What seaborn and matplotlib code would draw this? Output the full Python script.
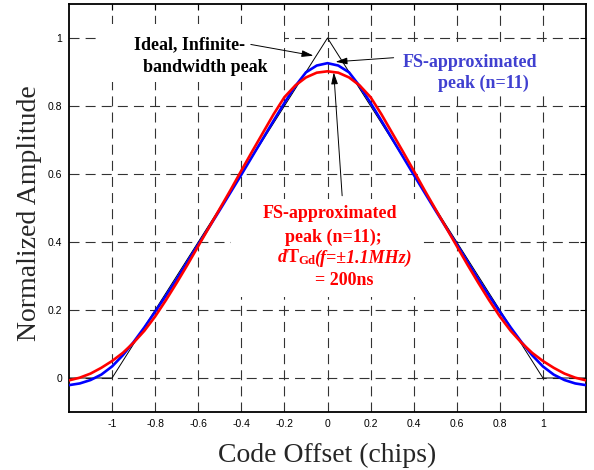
import numpy as np
import pandas as pd
import matplotlib
matplotlib.use("Agg")
import matplotlib.pyplot as plt
from matplotlib.patches import Rectangle
import seaborn as sns

# Code offset samples (chips)
offset = [-1.20, -1.15, -1.10, -1.05, -1.00, -0.95, -0.90, -0.85, -0.80, -0.75,
          -0.70, -0.65, -0.60, -0.55, -0.50, -0.45, -0.40, -0.35, -0.30, -0.25,
          -0.20, -0.15, -0.10, -0.05, 0.00, 0.05, 0.10, 0.15, 0.20, 0.25,
          0.30, 0.35, 0.40, 0.45, 0.50, 0.55, 0.60, 0.65, 0.70, 0.75,
          0.80, 0.85, 0.90, 0.95, 1.00, 1.05, 1.10, 1.15, 1.20]

# FS-approximated correlation peak, n = 11
fs_peak = [-0.021, -0.016, -0.006, 0.010, 0.034, 0.067, 0.106, 0.149, 0.195, 0.242,
           0.291, 0.342, 0.393, 0.443, 0.494, 0.546, 0.598, 0.651, 0.704, 0.757,
           0.809, 0.858, 0.899, 0.919, 0.926, 0.919, 0.899, 0.858, 0.809, 0.757,
           0.704, 0.651, 0.598, 0.546, 0.494, 0.443, 0.393, 0.342, 0.291, 0.242,
           0.195, 0.149, 0.106, 0.067, 0.034, 0.010, -0.006, -0.016, -0.021]

# FS-approximated peak with 200 ns group-delay variation
fs_peak_gd = [-0.007, 0.001, 0.013, 0.030, 0.050, 0.074, 0.104, 0.139, 0.181, 0.229,
              0.280, 0.333, 0.388, 0.443, 0.498, 0.553, 0.610, 0.666, 0.721, 0.776,
              0.826, 0.860, 0.884, 0.898, 0.902, 0.898, 0.884, 0.860, 0.826, 0.776,
              0.721, 0.666, 0.610, 0.553, 0.498, 0.443, 0.388, 0.333, 0.280, 0.229,
              0.181, 0.139, 0.104, 0.074, 0.050, 0.030, 0.013, 0.001, -0.007]

# Ideal infinite-bandwidth triangle
ideal_x = [-1.2, -1.0, 0.0, 1.0, 1.2]
ideal_y = [0.0, 0.0, 1.0, 0.0, 0.0]

x_ticks = [-1.0, -0.8, -0.6, -0.4, -0.2, 0.0, 0.2, 0.4, 0.6, 0.8, 1.0]
x_tick_labels = ['-1', '-0.8', '-0.6', '-0.4', '-0.2', '0', '0.2', '0.4', '0.6', '0.8', '1']
y_ticks = [0.0, 0.2, 0.4, 0.6, 0.8, 1.0]
y_tick_labels = ['0', '0.2', '0.4', '0.6', '0.8', '1']

sns.set_style("white")
plt.rcParams['font.family'] = ['Liberation Serif', 'DejaVu Serif']
plt.rcParams['mathtext.fontset'] = 'custom'
plt.rcParams['mathtext.rm'] = 'Liberation Serif:bold'
plt.rcParams['mathtext.it'] = 'Liberation Serif:italic:bold'
plt.rcParams['mathtext.bf'] = 'Liberation Serif:bold'

df = pd.DataFrame({'offset': offset, 'fs': fs_peak, 'fs_gd': fs_peak_gd})
ideal = pd.DataFrame({'offset': ideal_x, 'amp': ideal_y})

fig = plt.figure(figsize=(5.94, 4.70), dpi=100)
ax = fig.add_axes([69 / 594, 1 - 412 / 470, (586 - 69) / 594, (412 - 4) / 470])

sns.lineplot(data=ideal, x='offset', y='amp', color='black', lw=0.7,
             sort=False, estimator=None, ax=ax, zorder=3)
sns.lineplot(data=df, x='offset', y='fs', color='#0000ff', lw=1.9,
             sort=False, estimator=None, ax=ax, zorder=4)
sns.lineplot(data=df, x='offset', y='fs_gd', color='#ff0000', lw=1.9,
             sort=False, estimator=None, ax=ax, zorder=5)

ax.set_xlim(-1.2, 1.2)
ax.set_ylim(-0.1, 1.1)
ax.set_xticks(x_ticks)
ax.set_xticklabels(x_tick_labels)
ax.set_yticks(y_ticks)
ax.set_yticklabels(y_tick_labels)
for lab in ax.get_xticklabels() + ax.get_yticklabels():
    lab.set_fontfamily('Liberation Sans')
    lab.set_fontsize(7.5)
ax.tick_params(direction='in', length=4, width=0.8, top=True, right=True,
               pad=5, colors='black')

ax.grid(True, color='#333333', lw=0.8, linestyle=(0, (9, 5.5)))
ax.set_axisbelow(True)
for sp in ax.spines.values():
    sp.set_color('black')
    sp.set_linewidth(1.3)

ax.set_xlabel('Code Offset (chips)', fontsize=20, labelpad=10)
ax.set_ylabel('Normalized Amplitude', fontsize=20)
ax.yaxis.set_label_coords(-0.052, 0.488)

# white backgrounds behind the labels
def bg(x0, x1, y0, y1):
    ax.add_patch(Rectangle((x0, y0), x1 - x0, y1 - y0, facecolor='white',
                           edgecolor='none', zorder=2))

bg(-1.07, -0.2, 0.87, 1.04)
bg(0.31, 1.02, 0.835, 0.975)
bg(-0.449, 0.444, 0.239, 0.527)

bold = dict(fontsize=13, fontweight='bold', family='Liberation Serif', zorder=6)
ax.text(-0.898, 0.966, 'Ideal, Infinite-', color='black', ha='left', va='baseline', **bold)
ax.text(-0.856, 0.901, 'bandwidth peak', color='black', ha='left', va='baseline', **bold)

ax.text(0.347, 0.916, 'FS-approximated', color='#4040d0', ha='left', va='baseline', **bold)
ax.text(0.514, 0.854, 'peak (n=11)', color='#4040d0', ha='left', va='baseline', **bold)

red = '#ff0000'
ax.text(0.009, 0.471, 'FS-approximated', color=red, ha='center', va='baseline', **bold)
ax.text(0.028, 0.401, 'peak (n=11);', color=red, ha='center', va='baseline', **bold)
ax.text(0.079, 0.274, '= 200ns', color=red, ha='center', va='baseline', **bold)

# third line: dT_Gd symbol followed by the italic bandwidth note, centred as one
t1 = ax.text(0.0, 0.339, r'$\mathit{d}\mathrm{T}_{\mathrm{Gd}}$', color=red,
             ha='left', va='baseline', **bold)
t2 = ax.text(0.0, 0.339, '(f=\u00b11.1MHz)', color=red, ha='left', va='baseline',
             fontstyle='italic', **bold)
fig.canvas.draw()
renderer = fig.canvas.get_renderer()
w1 = t1.get_window_extent(renderer).width - 2.5
w2 = t2.get_window_extent(renderer).width
cx = ax.transData.transform((0.079, 0.339))[0]
left_px = cx - (w1 + w2) / 2
inv = ax.transData.inverted()
t1.set_x(inv.transform((left_px, 0))[0])
t2.set_x(inv.transform((left_px + w1, 0))[0])

arrow = dict(arrowstyle='-|>,head_length=0.7,head_width=0.2', color='black', lw=0.7,
             mutation_scale=10, shrinkA=0, shrinkB=0)
ax.annotate('', xy=(-0.065, 0.948), xytext=(-0.356, 0.981), arrowprops=arrow, zorder=7)
ax.annotate('', xy=(0.037, 0.930), xytext=(0.307, 0.942), arrowprops=arrow, zorder=7)
ax.annotate('', xy=(0.029, 0.899), xytext=(0.068, 0.536), arrowprops=arrow, zorder=7)

fig.savefig('out.png', dpi=100)
